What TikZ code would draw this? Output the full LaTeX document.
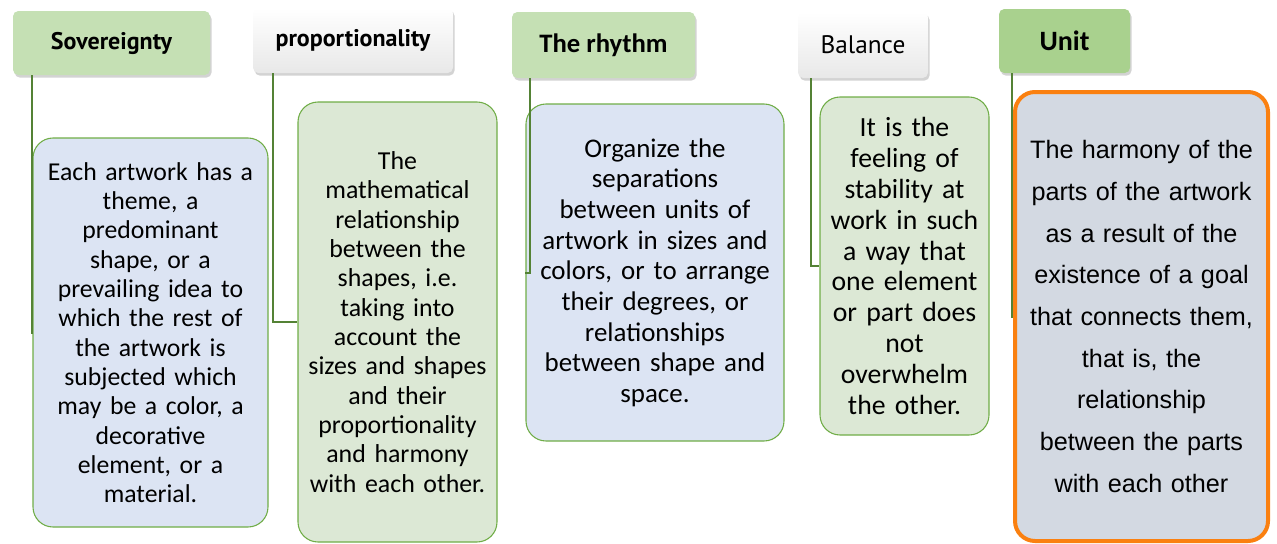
\documentclass[tikz,border=0pt]{standalone}
\usepackage{fontspec}
\setmainfont{Carlito}
\newfontfamily\dinfont{PT Sans}
\newfontfamily\arialfont{Liberation Sans}
\usetikzlibrary{shadows}
\definecolor{headgreen}{HTML}{C5E0B4}
\definecolor{unitgreen}{HTML}{A9D18E}
\definecolor{boxblue}{HTML}{DCE4F3}
\definecolor{boxgreen}{HTML}{DCE8D5}
\definecolor{boxgray}{HTML}{D3D9E2}
\definecolor{rimgreen}{HTML}{70AD47}
\definecolor{linkgreen}{HTML}{548235}
\definecolor{rimorange}{HTML}{FA8010}

\begin{document}
\begin{tikzpicture}[x=0.75pt,y=-0.75pt,
  head/.style={rounded corners=4pt,inner sep=0pt,align=center,
    drop shadow={opacity=0.35,shadow xshift=1.2pt,shadow yshift=-2pt}},
  greenhead/.style={head,fill=headgreen},
  whitehead/.style={head,top color=white,bottom color=black!9},
  card/.style={draw=rimgreen,line width=0.8pt,rounded corners=15pt,
    inner sep=0pt,align=center,font=\fontsize{19.3}{22}\selectfont},
  link/.style={draw=linkgreen,line width=1.5pt}]
  \useasboundingbox (0,0) rectangle (1277,543);
  % headers
  \node[greenhead,minimum width=147.75pt,minimum height=48pt,
    font=\dinfont\bfseries\fontsize{18}{20}\selectfont] (h1) at (111.5,43) {Sovereignty};
  \node[whitehead,minimum width=150pt,minimum height=48.75pt,
    font=\dinfont\bfseries\fontsize{18}{20}\selectfont] (h2) at (353,40.5) {proportionality};
  \node[greenhead,minimum width=137.25pt,minimum height=49.5pt,
    font=\bfseries\fontsize{20}{22}\selectfont] (h3) at (603.5,45) {The rhythm};
  \node[whitehead,minimum width=97.5pt,minimum height=49.5pt,
    font=\dinfont\fontsize{19}{21}\selectfont] (h4) at (863,45) {Balance};
  \node[head,fill=unitgreen,minimum width=98.25pt,minimum height=48pt,
    font=\bfseries\fontsize{21}{23}\selectfont] (h5) at (1064.5,41) {Unit};
  % cards
  \node[card,fill=boxblue,minimum width=176.25pt,minimum height=291.75pt,
    text width=172pt] (b1) at (150.5,332.5)
    {Each artwork has a\\theme, a\\predominant\\shape, or a\\prevailing idea to\\which the rest of\\the artwork is\\subjected which\\may be a color, a\\decorative\\element, or a\\material.};
  \node[card,fill=boxgreen,minimum width=149.25pt,minimum height=330pt,
    text width=146pt,font=\fontsize{19.4}{22}\selectfont] (b2) at (397.5,322)
    {The\\mathematical\\relationship\\between the\\shapes, i.e.\\taking into\\account the\\sizes and shapes\\and their\\proportionality\\and harmony\\with each other.};
  \node[card,fill=boxblue,minimum width=193.5pt,minimum height=252.75pt,
    text width=190pt,font=\fontsize{20.2}{23}\selectfont] (b3) at (655,272.5)
    {Organize the\\separations\\between units of\\artwork in sizes and\\colors, or to arrange\\their degrees, or\\relationships\\between shape and\\space.};
  \node[card,fill=boxgreen,minimum width=126.75pt,minimum height=253.5pt,
    text width=124pt,font=\fontsize{20.8}{23.2}\selectfont] (b4) at (904.5,266)
    {It is the\\feeling of\\stability at\\work in such\\a way that\\one element\\or part does\\not\\overwhelm\\the other.};
  \node[card,draw=rimorange,line width=3pt,fill=boxgray,minimum width=189.75pt,
    minimum height=336.75pt,text width=186pt,
    font=\arialfont\fontsize{18.9}{31.3}\selectfont] (b5) at (1141.5,316.5)
    {The harmony of the\\parts of the artwork\\as a result of the\\existence of a goal\\that connects them,\\that is, the\\relationship\\between the parts\\with each other};
  % links
  \draw[link] ([xshift=14.25pt]h1.south west) |- (b1.west);
  \draw[link] ([xshift=15pt]h2.south west) |- (b2.west);
  \draw[link] ([xshift=13.5pt]h3.south west) |- (b3.west);
  \draw[link] ([xshift=9.75pt]h4.south west) |- (b4.west);
  \draw[link] ([xshift=9.75pt]h5.south west) |- (b5.west);
\end{tikzpicture}
\end{document}
